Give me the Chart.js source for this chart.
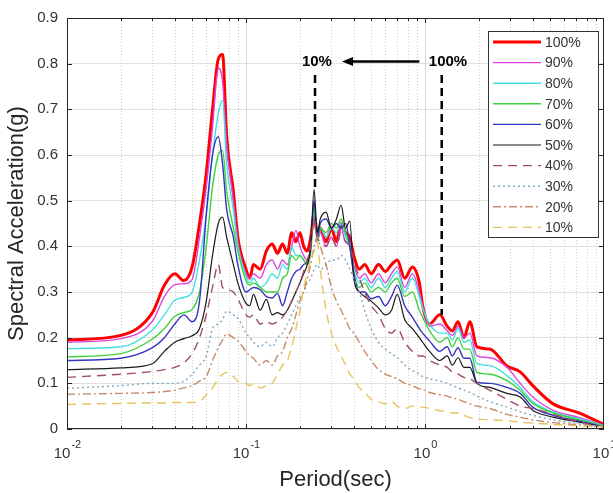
<!DOCTYPE html>
<html>
<head>
<meta charset="utf-8">
<script src="https://cdn.jsdelivr.net/npm/chart.js@4.4.1/dist/chart.umd.min.js"></script>
<style>
  html, body { margin: 0; padding: 0; background: #fff; }
</style>
</head>
<body>
<canvas id="myChart" width="613" height="493"></canvas>
<script>
// period axis (sec), shared by every curve
const periods = [
  0.01, 0.02, 0.03, 0.035, 0.04, 0.045, 0.05, 0.055, 0.06, 0.065, 0.07, 0.074, 0.078, 0.085, 0.09,
  0.1, 0.105, 0.11, 0.12, 0.13, 0.14, 0.15, 0.16, 0.17, 0.18, 0.19, 0.2, 0.21, 0.22, 0.23,
  0.24, 0.25, 0.26, 0.28, 0.3, 0.32, 0.34, 0.36, 0.38,
  0.4, 0.43, 0.46, 0.5, 0.55, 0.6, 0.65, 0.7, 0.77, 0.85, 0.93,
  0.97, 1.06, 1.21, 1.33, 1.42, 1.53, 1.65, 1.78, 1.95, 2.3, 2.87, 3.4, 4.0, 5.2, 7.3, 10
];

const labels = ["100%", "90%", "80%", "70%", "60%", "50%", "40%", "30%", "20%", "10%"];

// spectral acceleration (g)
const acc100 = [
  .195, .205, .255, .315, .34, .325, .355, .45, .56, .70, .81, .82, .64, .52, .42,
  .35, .33, .36, .35, .39, .405, .385, .405, .385, .43, .41, .43, .40, .39, .42,
  .47, .43, .44, .41, .44, .41, .45, .43, .42,
  .38, .35, .36, .34, .36, .345, .36, .37, .33, .355, .32,
  .27, .23, .25, .225, .215, .235, .20, .235, .18, .175, .138, .125, .095, .055, .035, .01
];
const acc90 = [
  .19, .198, .236, .29, .316, .318, .327, .42, .53, .66, .79, .76, .62, .50, .41,
  .34, .33, .34, .33, .36, .37, .35, .37, .36, .40, .435, .40, .38, .37, .40,
  .48, .41, .43, .40, .42, .40, .44, .41, .41,
  .36, .33, .34, .32, .34, .32, .34, .355, .31, .34, .30,
  .27, .225, .23, .215, .205, .225, .20, .21, .16, .156, .135, .10, .07, .041, .025, .008
];
const acc80 = [
  .176, .18, .217, .25, .282, .288, .30, .37, .47, .60, .69, .72, .58, .48, .40,
  .335, .32, .33, .31, .32, .34, .33, .36, .35, .40, .38, .38, .37, .36, .39,
  .48, .42, .44, .42, .44, .43, .45, .42, .40,
  .35, .32, .33, .31, .33, .31, .33, .345, .30, .33, .29,
  .265, .23, .21, .21, .195, .22, .19, .195, .143, .139, .117, .091, .06, .037, .022, .007
];
const acc70 = [
  .158, .165, .197, .22, .247, .255, .262, .30, .40, .53, .60, .61, .52, .44, .39,
  .325, .315, .32, .31, .30, .30, .30, .33, .34, .38, .37, .38, .37, .36, .39,
  .49, .41, .44, .43, .45, .44, .46, .43, .40,
  .34, .31, .32, .30, .31, .30, .32, .33, .29, .30, .26,
  .245, .215, .19, .20, .18, .20, .175, .175, .124, .12, .106, .085, .056, .035, .02, .006
];
const acc60 = [
  .15, .155, .178, .20, .23, .25, .235, .28, .47, .60, .64, .58, .48, .42, .36,
  .30, .305, .31, .305, .29, .287, .297, .27, .30, .33, .345, .35, .36, .367, .40,
  .50, .42, .45, .46, .44, .45, .44, .45, .40,
  .34, .30, .30, .285, .29, .27, .29, .315, .27, .245, .22,
  .21, .193, .17, .18, .16, .178, .155, .155, .102, .10, .091, .078, .048, .03, .017, .005
];
const acc50 = [
  .13, .134, .143, .17, .19, .198, .204, .22, .28, .38, .45, .464, .42, .36, .32,
  .275, .27, .295, .26, .284, .25, .255, .25, .26, .28, .30, .32, .34, .36, .40,
  .525, .43, .46, .475, .44, .46, .49, .44, .455,
  .33, .30, .29, .28, .265, .25, .26, .295, .24, .22, .20,
  .19, .17, .15, .16, .14, .156, .135, .135, .10, .091, .078, .07, .041, .026, .015, .004
];
const acc40 = [
  .113, .12, .126, .13, .135, .145, .165, .20, .25, .31, .36, .31, .305, .30, .285,
  .25, .245, .25, .23, .235, .23, .235, .245, .26, .28, .30, .32, .345, .37, .40,
  .46, .42, .41, .40, .42, .40, .43, .41, .40,
  .37, .33, .30, .27, .25, .22, .21, .22, .19, .17, .16,
  .16, .15, .14, .135, .125, .12, .113, .11, .10, .085, .065, .05, .045, .032, .015, .004
];
const acc30 = [
  .089, .095, .10, .10, .10, .105, .12, .14, .16, .22, .23, .24, .258, .25, .243,
  .21, .20, .19, .18, .19, .18, .20, .21, .23, .25, .27, .29, .30, .32, .33,
  .35, .36, .35, .36, .37, .37, .38, .37, .35,
  .33, .30, .26, .22, .19, .175, .165, .156, .14, .128, .12,
  .115, .11, .105, .10, .095, .09, .085, .08, .072, .06, .048, .038, .03, .02, .012, .004
];
const acc20 = [
  .076, .078, .08, .082, .085, .09, .095, .105, .115, .15, .178, .195, .208, .20, .193,
  .17, .16, .155, .14, .15, .14, .16, .17, .20, .22, .25, .28, .30, .33, .36,
  .40, .42, .40, .36, .31, .28, .26, .24, .22,
  .21, .19, .17, .15, .13, .12, .115, .11, .10, .095, .088,
  .087, .08, .075, .072, .068, .065, .06, .055, .05, .045, .032, .026, .02, .014, .009, .005
];
const acc10 = [
  .054, .056, .057, .057, .058, .058, .058, .06, .075, .09, .11, .12, .124, .115, .105,
  .10, .095, .10, .09, .095, .10, .12, .14, .15, .18, .22, .26, .31, .34, .37,
  .39, .41, .35, .26, .21, .18, .16, .14, .12,
  .11, .09, .08, .065, .06, .055, .06, .05, .045, .05, .048,
  .048, .045, .04, .038, .035, .035, .03, .025, .022, .02, .018, .015, .013, .01, .007, .005
];

const seriesValues = [acc100, acc90, acc80, acc70, acc60, acc50, acc40, acc30, acc20, acc10];

// x tick labels: 10 to the power of these
const xTickValues = [0.01, 0.1, 1, 10];
const xTickExps = ["-2", "-1", "0", "1"];

// annotation: arrow from 100% to 10%
const noteTexts = ["10%", "100%"];
const notePeriods = [0.249, 1.344];
const noteLevel = 0.805;
const arrowFrom = 0.93;
const arrowTo = 0.344;
const markerPeriods = [0.243, 1.24];
const markerTop = 0.775;
const markerBottoms = [0.52, 0.25];

// styles
const lineColors = ["#ff0000", "#dd44dd", "#44e0e0", "#3fd23f", "#3535c0", "#1a1a1a",
                    "#9e4f63", "#7fa8bf", "#c98a6a", "#e8c25a"];
const lineWidths = [3, 1.4, 1.4, 1.4, 1.4, 1.2, 1.4, 1.4, 1.4, 1.4];
const lineDashes = [[], [], [], [], [], [], [9, 6], [2, 3], [8, 3, 2, 3], [9, 6]];

const FONT = "'Liberation Sans', Arial, Helvetica, sans-serif";

const datasets = labels.map((lab, i) => ({
  label: lab,
  data: periods.map((p, j) => ({ x: p, y: seriesValues[i][j] })),
  borderColor: lineColors[i],
  backgroundColor: lineColors[i],
  borderWidth: lineWidths[i],
  borderDash: lineDashes[i],
  pointRadius: 0,
  fill: false,
  cubicInterpolationMode: "monotone",
  borderJoinStyle: "round",
  order: labels.length - i
}));

// log grid, frame, inward ticks, superscript labels, arrow notes, legend box
const axesPlugin = {
  id: "axesPlugin",
  beforeDatasetsDraw(chart) {
    const { ctx, chartArea: a, scales: { x } } = chart;
    ctx.save();
    ctx.lineWidth = 1;
    for (let e = -2; e <= 0; e++) {
      for (let k = 1; k <= 9; k++) {
        if (k === 1 && e === -2) continue;
        const px = Math.round(x.getPixelForValue(k * Math.pow(10, e))) + 0.5;
        ctx.strokeStyle = k === 1 ? "#d8d8d8" : "#cfcfcf";
        ctx.setLineDash(k === 1 ? [] : [1, 2]);
        ctx.beginPath();
        ctx.moveTo(px, a.top);
        ctx.lineTo(px, a.bottom);
        ctx.stroke();
      }
    }
    ctx.restore();
  },
  afterDatasetsDraw(chart) {
    const { ctx, chartArea: a, scales: { x, y } } = chart;
    ctx.save();

    // frame
    ctx.strokeStyle = "#262626";
    ctx.lineWidth = 1;
    ctx.setLineDash([]);
    ctx.strokeRect(a.left + 0.5, a.top + 0.5, a.right - a.left - 1, a.bottom - a.top - 1);

    // inward ticks
    ctx.beginPath();
    y.ticks.forEach(t => {
      const py = Math.round(y.getPixelForValue(t.value)) + 0.5;
      ctx.moveTo(a.left, py); ctx.lineTo(a.left + 5, py);
      ctx.moveTo(a.right, py); ctx.lineTo(a.right - 5, py);
    });
    for (let e = -2; e <= 0; e++) {
      for (let k = 1; k <= 9; k++) {
        const px = Math.round(x.getPixelForValue(k * Math.pow(10, e))) + 0.5;
        const len = k === 1 ? 5 : 3;
        ctx.moveTo(px, a.bottom); ctx.lineTo(px, a.bottom - len);
        ctx.moveTo(px, a.top); ctx.lineTo(px, a.top + len);
      }
    }
    ctx.stroke();

    // x tick labels 10^n
    ctx.fillStyle = "#333";
    ctx.textBaseline = "alphabetic";
    ctx.textAlign = "left";
    xTickValues.forEach((v, i) => {
      const px = x.getPixelForValue(v);
      ctx.font = "15px " + FONT;
      const wb = ctx.measureText("10").width;
      ctx.font = "11px " + FONT;
      const we = ctx.measureText(xTickExps[i]).width;
      const x0 = px - (wb + we) / 2;
      ctx.font = "15px " + FONT;
      ctx.fillText("10", x0, a.bottom + 29);
      ctx.font = "11px " + FONT;
      ctx.fillText(xTickExps[i], x0 + wb + 1, a.bottom + 19);
    });

    // dashed markers
    ctx.strokeStyle = "#000";
    ctx.lineWidth = 2.5;
    ctx.setLineDash([8, 5]);
    markerPeriods.forEach((p, i) => {
      const px = x.getPixelForValue(p);
      ctx.beginPath();
      ctx.moveTo(px, y.getPixelForValue(markerTop));
      ctx.lineTo(px, y.getPixelForValue(markerBottoms[i]));
      ctx.stroke();
    });
    ctx.setLineDash([]);

    // notes
    ctx.fillStyle = "#000";
    ctx.font = "bold 15px " + FONT;
    ctx.textAlign = "center";
    ctx.textBaseline = "middle";
    const ny = y.getPixelForValue(noteLevel);
    noteTexts.forEach((t, i) => ctx.fillText(t, x.getPixelForValue(notePeriods[i]), ny));

    // arrow
    const ax0 = x.getPixelForValue(arrowFrom);
    const ax1 = x.getPixelForValue(arrowTo);
    ctx.lineWidth = 2.5;
    ctx.beginPath();
    ctx.moveTo(ax0, ny);
    ctx.lineTo(ax1 + 8, ny);
    ctx.stroke();
    ctx.beginPath();
    ctx.moveTo(ax1, ny);
    ctx.lineTo(ax1 + 11, ny - 4.5);
    ctx.lineTo(ax1 + 11, ny + 4.5);
    ctx.closePath();
    ctx.fill();

    ctx.restore();
  },
  afterDraw(chart) {
    const { ctx, chartArea: a } = chart;
    const bw = 110, bh = 206;
    const bx = a.right - 6 - bw, by = a.top + 13;
    ctx.save();
    ctx.fillStyle = "#fff";
    ctx.fillRect(bx, by, bw, bh);
    ctx.strokeStyle = "#333";
    ctx.lineWidth = 1;
    ctx.strokeRect(bx + 0.5, by + 0.5, bw, bh);
    ctx.font = "14px " + FONT;
    ctx.textAlign = "left";
    ctx.textBaseline = "middle";
    chart.data.datasets.forEach((ds, i) => {
      const ry = by + 11 + i * 20.6;
      ctx.strokeStyle = ds.borderColor;
      ctx.lineWidth = ds.borderWidth;
      ctx.setLineDash(ds.borderDash);
      ctx.beginPath();
      ctx.moveTo(bx + 5, ry);
      ctx.lineTo(bx + 53, ry);
      ctx.stroke();
      ctx.setLineDash([]);
      ctx.fillStyle = "#333";
      ctx.fillText(ds.label, bx + 57, ry + 1);
    });
    ctx.restore();
  }
};

new Chart("myChart", {
  type: "line",
  data: { datasets: datasets },
  options: {
    responsive: false,
    animation: false,
    layout: { padding: { top: 14, right: 9, left: 0, bottom: 0 } },
    plugins: {
      legend: { display: false },
      tooltip: { enabled: false }
    },
    scales: {
      x: {
        type: "logarithmic",
        min: 0.01,
        max: 10,
        ticks: { display: false },
        grid: { display: false },
        border: { display: false },
        title: {
          display: true,
          text: "Period(sec)",
          color: "#262626",
          font: { family: FONT, size: 22, lineHeight: 1.2 },
          padding: { top: 0, bottom: 0 }
        },
        afterFit: (s) => { s.height = 64; }
      },
      y: {
        min: 0,
        max: 0.9,
        ticks: {
          stepSize: 0.1,
          color: "#333",
          padding: 9,
          font: { family: FONT, size: 15 },
          callback: (v) => (v === 0 ? "0" : v.toFixed(1))
        },
        grid: { color: "#e0e0e0", drawTicks: false },
        border: { display: false },
        title: {
          display: true,
          text: "Spectral Acceleration(g)",
          color: "#262626",
          font: { family: FONT, size: 22, lineHeight: 1.2 },
          padding: { top: 4, bottom: 0 }
        },
        afterFit: (s) => { s.width = 67; }
      }
    }
  },
  plugins: [axesPlugin]
});
</script>
</body>
</html>
